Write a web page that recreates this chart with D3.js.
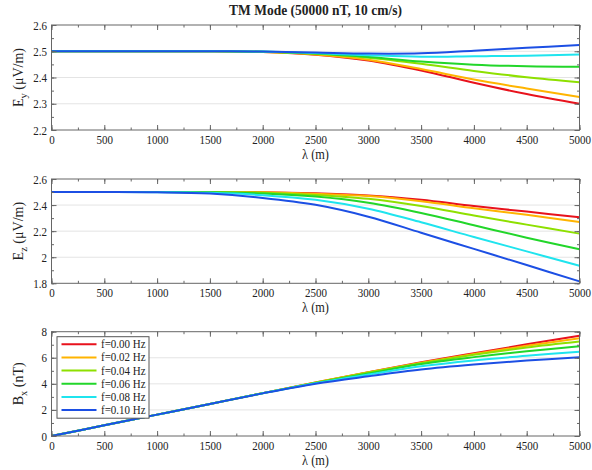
<!DOCTYPE html>
<html>
<head>
<meta charset="utf-8">
<script src="https://cdn.jsdelivr.net/npm/d3@7"></script>
<style>
  body { margin: 0; background: #fff; }
  svg text { font-family: "Liberation Serif", "Times New Roman", serif; fill: #222; }
</style>
</head>
<body>
<svg id="chart" width="592" height="470"></svg>
<script>
// Wavelength samples (m)
const lambda = [0, 500, 1000, 1500, 2000, 2500, 3000, 3500, 4000, 4500, 5000];

// Frequencies / legend entries and line colours
const freqLabels = ["f=0.00 Hz", "f=0.02 Hz", "f=0.04 Hz", "f=0.06 Hz", "f=0.08 Hz", "f=0.10 Hz"];
const lineColors = ["#e8121c", "#ffb400", "#8ee000", "#22d62a", "#1fe4ee", "#1c4fe4"];

// E_y (µV/m) per frequency
const eyF000 = [2.5, 2.5, 2.5, 2.5, 2.497, 2.487, 2.465, 2.427, 2.380, 2.337, 2.300];
const eyF002 = [2.5, 2.5, 2.5, 2.5, 2.497, 2.488, 2.468, 2.432, 2.392, 2.358, 2.326];
const eyF004 = [2.5, 2.5, 2.5, 2.5, 2.498, 2.490, 2.475, 2.452, 2.425, 2.401, 2.382];
const eyF006 = [2.5, 2.5, 2.5, 2.5, 2.498, 2.491, 2.478, 2.461, 2.449, 2.443, 2.441];
const eyF008 = [2.5, 2.5, 2.5, 2.5, 2.499, 2.493, 2.485, 2.479, 2.481, 2.483, 2.488];
const eyF010 = [2.5, 2.5, 2.5, 2.5, 2.499, 2.495, 2.491, 2.492, 2.502, 2.513, 2.524];

// E_z (µV/m) per frequency
const ezF000 = [2.5, 2.5, 2.5, 2.5, 2.499, 2.490, 2.474, 2.440, 2.392, 2.350, 2.306];
const ezF002 = [2.5, 2.5, 2.5, 2.5, 2.498, 2.486, 2.469, 2.430, 2.376, 2.325, 2.270];
const ezF004 = [2.5, 2.5, 2.5, 2.499, 2.495, 2.478, 2.448, 2.393, 2.320, 2.250, 2.181];
const ezF006 = [2.5, 2.5, 2.5, 2.498, 2.489, 2.465, 2.418, 2.340, 2.245, 2.150, 2.061];
const ezF008 = [2.5, 2.5, 2.499, 2.494, 2.476, 2.440, 2.372, 2.268, 2.155, 2.045, 1.935];
const ezF010 = [2.5, 2.5, 2.498, 2.488, 2.455, 2.402, 2.311, 2.188, 2.064, 1.940, 1.815];

// B_x (nT) per frequency
const bxF000 = [0, 0.82, 1.64, 2.46, 3.29, 4.10, 4.90, 5.65, 6.35, 7.03, 7.69];
const bxF002 = [0, 0.82, 1.64, 2.46, 3.29, 4.10, 4.89, 5.62, 6.30, 6.92, 7.49];
const bxF004 = [0, 0.82, 1.64, 2.46, 3.29, 4.09, 4.87, 5.58, 6.23, 6.79, 7.25];
const bxF006 = [0, 0.82, 1.64, 2.46, 3.28, 4.07, 4.80, 5.52, 6.05, 6.50, 6.88];
const bxF008 = [0, 0.82, 1.64, 2.46, 3.28, 4.05, 4.72, 5.35, 5.80, 6.15, 6.47];
const bxF010 = [0, 0.82, 1.64, 2.46, 3.27, 4.01, 4.58, 5.10, 5.48, 5.79, 6.04];

// Axis ticks
const xTicks = [0, 500, 1000, 1500, 2000, 2500, 3000, 3500, 4000, 4500, 5000];
const eyTicks = [2.2, 2.3, 2.4, 2.5, 2.6];
const ezTicks = [1.8, 2.0, 2.2, 2.4, 2.6];
const bxTicks = [0, 2, 4, 6, 8];

const titleText = "TM Mode (50000 nT,  10 cm/s)";
const xLabelText = "λ (m)";

const serif = "'Liberation Serif', 'Times New Roman', serif";
const svg = d3.select("#chart");
const left = 51.5, right = 579.5;
const x = d3.scaleLinear().domain([0, 5000]).range([left, right]);
const xMinor = d3.range(0, 5001, 250);
const squeeze = "scale(0.88,1)";
const fmt = d3.format(".1~f");

const panels = [
  { top: 25, bottom: 130, ticks: eyTicks, minorStep: 0.05,
    series: [eyF000, eyF002, eyF004, eyF006, eyF008, eyF010],
    sym: "E", sub: "y", unit: " (μV/m)" },
  { top: 179, bottom: 283.3, ticks: ezTicks, minorStep: 0.1,
    series: [ezF000, ezF002, ezF004, ezF006, ezF008, ezF010],
    sym: "E", sub: "z", unit: " (μV/m)" },
  { top: 331.7, bottom: 436, ticks: bxTicks, minorStep: 1,
    series: [bxF000, bxF002, bxF004, bxF006, bxF008, bxF010],
    sym: "B", sub: "x", unit: " (nT)" }
];

panels.forEach((p, pi) => {
  const lo = p.ticks[0], hi = p.ticks[p.ticks.length - 1];
  const y = d3.scaleLinear().domain([lo, hi]).range([p.bottom, p.top]);
  const g = svg.append("g");
  const yMinor = d3.range(lo, hi + p.minorStep / 2, p.minorStep);

  // horizontal grid at the inner major ticks
  g.append("g").selectAll("line")
    .data(p.ticks.slice(1, -1)).join("line")
    .attr("x1", left).attr("x2", right)
    .attr("y1", d => y(d)).attr("y2", d => y(d))
    .attr("stroke", "#e4e4e4").attr("stroke-width", 1);

  // one curve per frequency
  const line = d3.line().x((d, i) => x(lambda[i])).y(d => y(d)).curve(d3.curveCatmullRom.alpha(0.5));
  g.append("g").selectAll("path")
    .data(p.series).join("path")
    .attr("d", d => line(d))
    .attr("fill", "none")
    .attr("stroke", (d, i) => lineColors[i])
    .attr("stroke-width", 2);

  const axStyle = sel => {
    sel.attr("font-family", serif);
    sel.select(".domain").remove();
    sel.selectAll("line").attr("stroke", "#666");
  };

  // bottom axis with labels
  const bx = g.append("g").attr("transform", `translate(0,${p.bottom})`)
    .call(d3.axisBottom(x).tickValues(xTicks).tickSize(-5).tickPadding(5).tickFormat(d3.format("d")));
  axStyle(bx);
  bx.selectAll("text").attr("font-size", 12.5).attr("transform", squeeze).attr("fill", "#222");
  g.append("g").attr("transform", `translate(0,${p.bottom})`)
    .call(d3.axisBottom(x).tickValues(xMinor).tickSize(-2.5).tickFormat("")).call(axStyle);
  // top axis ticks
  g.append("g").attr("transform", `translate(0,${p.top})`)
    .call(d3.axisTop(x).tickValues(xTicks).tickSize(-5).tickFormat("")).call(axStyle);
  g.append("g").attr("transform", `translate(0,${p.top})`)
    .call(d3.axisTop(x).tickValues(xMinor).tickSize(-2.5).tickFormat("")).call(axStyle);

  // left axis with labels
  const ly = g.append("g").attr("transform", `translate(${left},0)`)
    .call(d3.axisLeft(y).tickValues(p.ticks).tickSize(-5).tickPadding(5).tickFormat(fmt));
  axStyle(ly);
  ly.selectAll("text").attr("font-size", 12.5).attr("transform", squeeze).attr("fill", "#222");
  g.append("g").attr("transform", `translate(${left},0)`)
    .call(d3.axisLeft(y).tickValues(yMinor).tickSize(-2.5).tickFormat("")).call(axStyle);
  // right axis ticks
  g.append("g").attr("transform", `translate(${right},0)`)
    .call(d3.axisRight(y).tickValues(p.ticks).tickSize(-5).tickFormat("")).call(axStyle);
  g.append("g").attr("transform", `translate(${right},0)`)
    .call(d3.axisRight(y).tickValues(yMinor).tickSize(-2.5).tickFormat("")).call(axStyle);

  // frame
  g.append("rect")
    .attr("x", left).attr("y", p.top)
    .attr("width", right - left).attr("height", p.bottom - p.top)
    .attr("fill", "none").attr("stroke", "#666").attr("stroke-width", 1);

  // x label
  g.append("text")
    .attr("transform", `translate(${(left + right) / 2},${p.bottom + 29}) ${squeeze}`)
    .attr("text-anchor", "middle").attr("font-size", 14)
    .text(xLabelText);

  // y label with subscript
  const yl = g.append("text")
    .attr("transform", `translate(23,${(p.top + p.bottom) / 2}) rotate(-90)`)
    .attr("text-anchor", "middle").attr("font-size", 14);
  yl.append("tspan").text(p.sym);
  yl.append("tspan").attr("dy", 4).attr("font-size", 10.5).text(p.sub);
  yl.append("tspan").attr("dy", -4).text(p.unit);

  // legend in the bottom panel
  if (pi === 2) {
    const lg = g.append("g").attr("transform", `translate(57,${p.top + 5})`);
    lg.append("rect").attr("width", 92).attr("height", 81.5)
      .attr("fill", "#fff").attr("stroke", "#555").attr("stroke-width", 1);
    freqLabels.forEach((lab, i) => {
      const yy = 7.6 + i * 13.15;
      lg.append("line").attr("x1", 4.5).attr("x2", 39.5).attr("y1", yy).attr("y2", yy)
        .attr("stroke", lineColors[i]).attr("stroke-width", 2);
      lg.append("text").attr("transform", `translate(44,${yy + 4}) ${squeeze}`)
        .attr("font-size", 12.5).text(lab);
    });
  }
});

// title
svg.append("text")
  .attr("transform", `translate(${(left + right) / 2},15) scale(0.93,1)`)
  .attr("text-anchor", "middle").attr("font-size", 14.5).attr("font-weight", "bold")
  .text(titleText);
</script>
</body>
</html>
